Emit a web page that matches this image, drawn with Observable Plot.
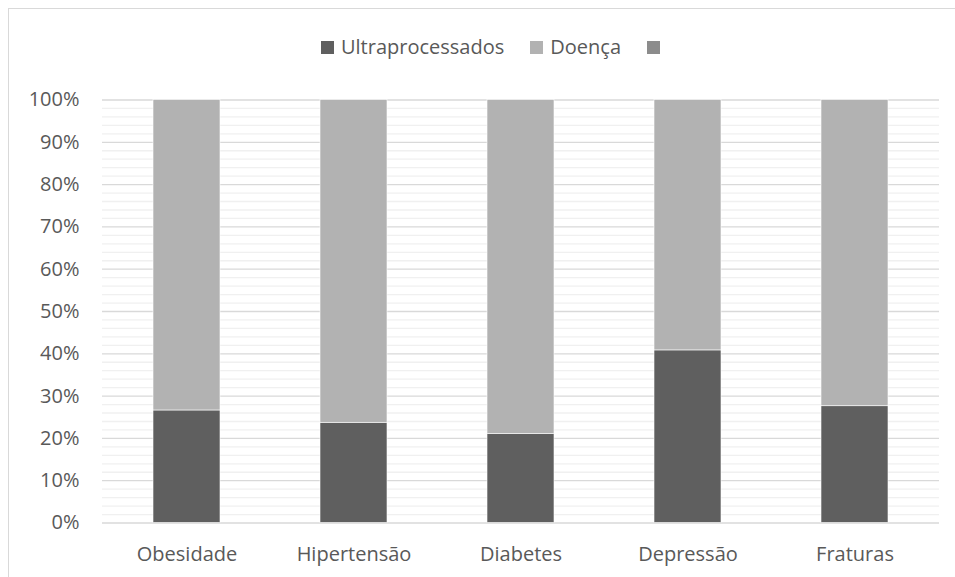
<!DOCTYPE html>
<html>
<head>
<meta charset="utf-8">
<script src="https://cdn.jsdelivr.net/npm/d3@7"></script>
<script src="https://cdn.jsdelivr.net/npm/@observablehq/plot@0.6"></script>
<style>
  html, body { margin: 0; padding: 0; background: #fff; overflow: hidden; }
  #wrap { position: relative; width: 955px; height: 577px; overflow: hidden; font-family: "Open Sans", sans-serif; }
  #frame { position: absolute; left: 8px; top: 8px; width: 1000px; height: 1000px; border: 1.3px solid #d9d9d9; box-sizing: border-box; }
  #legend { position: relative; height: 70px; display: flex; justify-content: center; align-items: flex-start; padding-top: 34px; box-sizing: border-box; font-size: 20px; color: #595959; padding-left: 26px; }
  .item { display: flex; align-items: center; margin: 0 13px; height: 26px; line-height: 26px; }
  .sw { width: 13px; height: 13px; display: inline-block; }
  .lab { margin-left: 7px; }
  #chart { position: relative; }
</style>
</head>
<body>
<div id="wrap">
  <div id="frame"></div>
  <div id="legend"></div>
  <div id="chart"></div>
</div>
<script>
const categories = ["Obesidade", "Hipertensão", "Diabetes", "Depressão", "Fraturas"];
const ultraprocessados = [0.266, 0.237, 0.210, 0.408, 0.276];
const doenca = ultraprocessados.map(v => 1 - v);
const seriesNames = ["Ultraprocessados", "Doença", ""];
const seriesColors = ["#5f5f5f", "#b2b2b2", "#8c8c8c"];
const majorTicks = [0, 0.1, 0.2, 0.3, 0.4, 0.5, 0.6, 0.7, 0.8, 0.9, 1.0];
const minorTicks = [0.02,0.04,0.06,0.08,0.12,0.14,0.16,0.18,0.22,0.24,0.26,0.28,0.32,0.34,0.36,0.38,0.42,0.44,0.46,0.48,0.52,0.54,0.56,0.58,0.62,0.64,0.66,0.68,0.72,0.74,0.76,0.78,0.82,0.84,0.86,0.88,0.92,0.94,0.96,0.98];

const rows = [];
categories.forEach((c, i) => {
  rows.push({cat: c, series: "Ultraprocessados", value: ultraprocessados[i], order: 0});
  rows.push({cat: c, series: "Doença", value: doenca[i], order: 1});
});

const legend = document.getElementById("legend");
seriesNames.forEach((n, i) => {
  const it = document.createElement("div");
  it.className = "item";
  const sw = document.createElement("span");
  sw.className = "sw";
  sw.style.background = seriesColors[i];
  it.appendChild(sw);
  if (n) { const t = document.createElement("span"); t.className = "lab"; t.textContent = n; it.appendChild(t); }
  legend.appendChild(it);
});

const chart = Plot.plot({
  width: 955,
  height: 507,
  marginTop: 29.5,
  marginBottom: 54.5,
  marginLeft: 102,
  marginRight: 16,
  style: { fontFamily: "Open Sans, sans-serif", fontSize: "20px", color: "#595959", background: "transparent" },
  x: { domain: categories, paddingInner: 0.6, paddingOuter: 0.3, label: null },
  y: { domain: [0, 1], label: null },
  color: { domain: seriesNames.slice(0, 2), range: seriesColors.slice(0, 2) },
  marks: [
    Plot.ruleY(minorTicks, { stroke: "#f0f0f0", strokeWidth: 1.3 }),
    Plot.ruleY(majorTicks, { stroke: "#d9d9d9", strokeWidth: 1.3 }),
    Plot.barY(rows, Plot.stackY({ order: "order" }, { x: "cat", y: "value", fill: "series", stroke: "#ffffff", strokeWidth: 0.6 })),
    Plot.axisY(majorTicks, { tickFormat: d => Math.round(d * 100) + "%", tickSize: 0, tickPadding: 23, fill: "#595959", fontSize: 20 }),
    Plot.axisX({ tickSize: 0, tickPadding: 24, fill: "#595959", fontSize: 20 })
  ]
});
document.getElementById("chart").appendChild(chart);
</script>
</body>
</html>
